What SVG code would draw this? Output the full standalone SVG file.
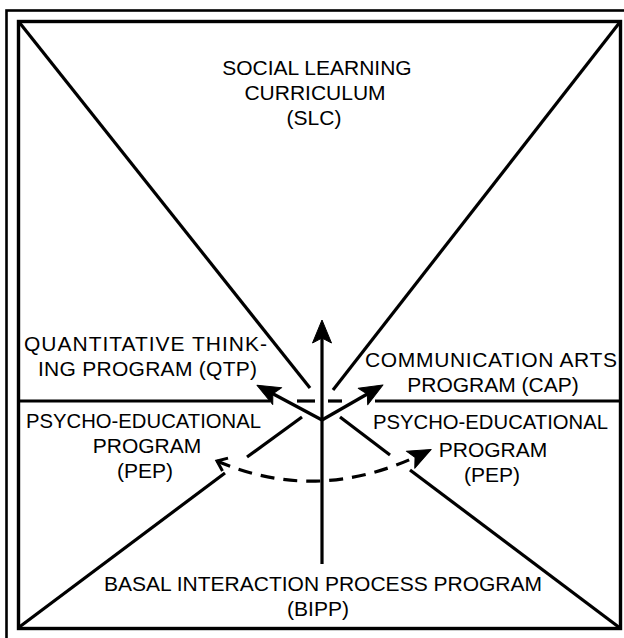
<svg xmlns="http://www.w3.org/2000/svg" width="624" height="638" viewBox="0 0 624 638">
<style>
  .ln{stroke:#000;stroke-width:3.2;fill:none;stroke-linecap:butt}
  .dash{stroke:#000;stroke-width:3.2;fill:none;stroke-dasharray:14 9}
  .frame{stroke:#000;fill:none}
  text{font-family:"Liberation Sans",Arial,sans-serif;font-size:21px;fill:#000}
  .m{text-anchor:middle}
</style>
<defs>
  <marker id="head" markerUnits="userSpaceOnUse" markerWidth="40" markerHeight="30" viewBox="-20 -15 40 30" refX="0" refY="0" orient="auto" overflow="visible">
    <path d="M8,0 L-15,-9.5 L-10,0 L-15,9.5 Z" fill="#000" stroke="#000" stroke-width="1" stroke-linejoin="round"/>
  </marker>
  <marker id="open" markerUnits="userSpaceOnUse" markerWidth="30" markerHeight="30" viewBox="-15 -15 30 30" refX="0" refY="0" orient="auto-start-reverse" overflow="visible">
    <path d="M-9,-7 L0,0 L-9,7" fill="none" stroke="#000" stroke-width="3"/>
  </marker>
</defs>
<rect width="624" height="638" fill="#fff"/>
<g id="frame">
  <rect class="frame" x="6.5" y="10.5" width="640" height="640" stroke-width="2.6"/>
  <rect class="frame" x="18.5" y="21.5" width="602" height="607" stroke-width="3.4"/>
</g>
<g id="connectors">
  <line class="ln" x1="19" y1="22" x2="310" y2="388"/>
  <line class="ln" x1="620" y1="22" x2="333" y2="390"/>
  <line class="ln" x1="18" y1="628" x2="225" y2="473"/>
  <line class="ln" x1="247" y1="457" x2="302" y2="417"/>
  <line class="ln" x1="340" y1="417" x2="390" y2="455"/>
  <line class="ln" x1="410" y1="470" x2="620" y2="628"/>
  <line class="ln" x1="18" y1="401" x2="270" y2="401"/>
  <line class="ln" x1="297" y1="401" x2="315" y2="401"/>
  <line class="ln" x1="328" y1="401" x2="342" y2="401"/>
  <line class="ln" x1="375" y1="401" x2="620" y2="401"/>
  <line class="ln" x1="322" y1="564" x2="322" y2="328" marker-end="url(#head)"/>
  <line class="ln" x1="322" y1="420" x2="264" y2="389" marker-end="url(#head)"/>
  <line class="ln" x1="322" y1="420" x2="376" y2="389" marker-end="url(#head)"/>
  <path class="dash" d="M217,461 Q319,505 424,453" marker-start="url(#open)" marker-end="url(#head)"/>
</g>
<g id="slc">
  <text class="m" x="317" y="75">SOCIAL LEARNING</text>
  <text class="m" x="315" y="100">CURRICULUM</text>
  <text class="m" x="314" y="125">(SLC)</text>
</g>
<g id="qtp">
  <text x="24" y="351" textLength="243" lengthAdjust="spacing">QUANTITATIVE THINK-</text>
  <text x="38" y="376" textLength="219" lengthAdjust="spacing">ING PROGRAM (QTP)</text>
</g>
<g id="cap">
  <text x="365" y="367" textLength="252" lengthAdjust="spacing">COMMUNICATION ARTS</text>
  <text class="m" x="493" y="392">PROGRAM (CAP)</text>
</g>
<g id="pep-left">
  <text x="26" y="428" textLength="235" lengthAdjust="spacingAndGlyphs">PSYCHO-EDUCATIONAL</text>
  <text class="m" x="147" y="453">PROGRAM</text>
  <text class="m" x="145" y="478">(PEP)</text>
</g>
<g id="pep-right">
  <text x="373" y="429" textLength="235" lengthAdjust="spacingAndGlyphs">PSYCHO-EDUCATIONAL</text>
  <text class="m" x="493" y="457">PROGRAM</text>
  <text class="m" x="492" y="482">(PEP)</text>
</g>
<g id="bipp">
  <text class="m" x="323" y="591">BASAL INTERACTION PROCESS PROGRAM</text>
  <text class="m" x="318" y="616">(BIPP)</text>
</g>
</svg>
